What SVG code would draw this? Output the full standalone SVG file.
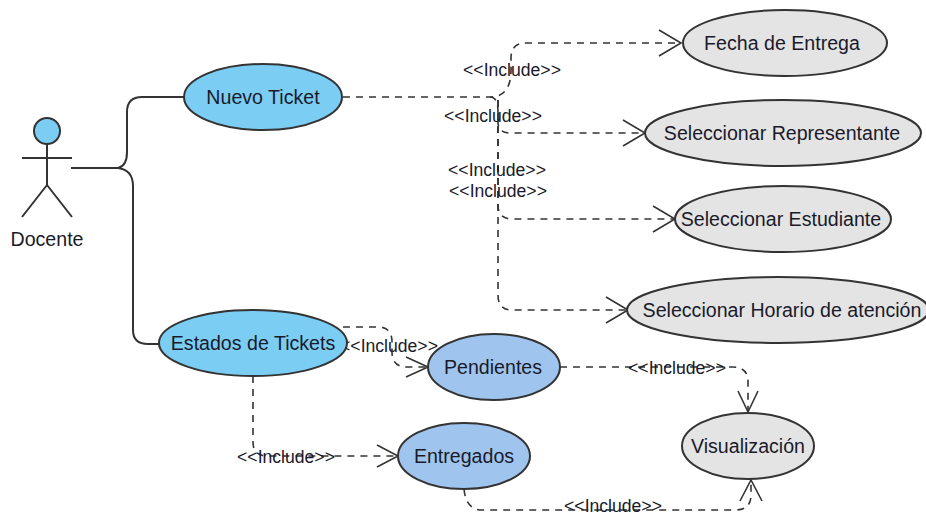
<svg xmlns="http://www.w3.org/2000/svg" width="926" height="516" viewBox="0 0 926 516">
<style>
text{font-family:"Liberation Sans",Arial,sans-serif;fill:#1a1a2a}
.n{font-size:19.6px;text-anchor:middle}
.l{font-size:17.6px;text-anchor:middle}
.e{stroke:#333;stroke-width:2}
.a{fill:#7bcdf3}.b{fill:#9fc5ef}.g{fill:#e4e4e4}
.s{fill:none;stroke:#333;stroke-width:2}
.d{fill:none;stroke:#333;stroke-width:1.6;stroke-dasharray:7 6}
.h{fill:none;stroke:#333;stroke-width:1.6}
</style>
<rect width="926" height="516" fill="#fff"/>
<g id="connectors">
<path class="s" d="M71 168H118Q127 166 127 152V112Q127 97 142 97H185"/>
<path class="s" d="M118 168Q133 170 133 186V330Q133 344 148 344H159"/>
<path class="d" d="M343 97H490Q511 97 511 70V58Q511 43 526 43H681"/>
<path class="d" d="M490 97Q498 97 498 112V122Q498 133 510 133H645"/>
<path class="d" d="M498 100V205Q498 219 512 219H675"/>
<path class="d" d="M498 100V295Q498 310 512 310H627"/>
<path class="d" d="M343 327H378Q392 327 392 342V352Q392 367 407 367H428"/>
<path class="d" d="M253 376V442Q253 456 267 456H398"/>
<path class="d" d="M560 367H733Q748 367 748 382V412"/>
<path class="d" d="M464 489Q466 510 482 510H735Q751 510 751 495V480"/>
<path class="h" d="M659 30L681 43L659 56"/>
<path class="h" d="M623 120L645 133L623 146"/>
<path class="h" d="M653 206L675 219L653 232"/>
<path class="h" d="M606 297L628 310L606 323"/>
<path class="h" d="M406 357L428 367L406 377"/>
<path class="h" d="M377 445L398 456L377 467"/>
<path class="h" d="M738 391L748 412L758 391"/>
<path class="h" d="M740 501L751 480L762 501"/>
<text class="l" x="512" y="76">&lt;&lt;Include&gt;&gt;</text>
<text class="l" x="493" y="122">&lt;&lt;Include&gt;&gt;</text>
<text class="l" x="497" y="176">&lt;&lt;Include&gt;&gt;</text>
<text class="l" x="498" y="197">&lt;&lt;Include&gt;&gt;</text>
<text class="l" x="389" y="352">&lt;&lt;Include&gt;&gt;</text>
<text class="l" x="286" y="463">&lt;&lt;Include&gt;&gt;</text>
<text class="l" x="677" y="374">&lt;&lt;Include&gt;&gt;</text>
<text class="l" x="613" y="512">&lt;&lt;Include&gt;&gt;</text>
</g>
<g id="actor-docente">
<circle class="e a" cx="47" cy="131" r="13"/>
<path class="s" d="M47 144V185M22 158H72M22 217L47 185L72 217"/>
<text class="n" x="47" y="246">Docente</text>
</g>
<g id="nuevo-ticket"><ellipse class="e a" cx="263" cy="97" rx="79" ry="33"/><text class="n" x="263" y="104">Nuevo Ticket</text></g>
<g id="estados-de-tickets"><ellipse class="e a" cx="253" cy="343" rx="94" ry="33"/><text class="n" x="253" y="350">Estados de Tickets</text></g>
<g id="pendientes"><ellipse class="e b" cx="494" cy="367" rx="66" ry="33"/><text class="n" x="493" y="374">Pendientes</text></g>
<g id="entregados"><ellipse class="e b" cx="464" cy="456" rx="66" ry="33"/><text class="n" x="464" y="463">Entregados</text></g>
<g id="visualizacion"><ellipse class="e g" cx="748" cy="446" rx="66" ry="33"/><text class="n" x="748" y="453">Visualización</text></g>
<g id="fecha-de-entrega"><ellipse class="e g" cx="785" cy="43" rx="102" ry="33"/><text class="n" x="782" y="50">Fecha de Entrega</text></g>
<g id="seleccionar-representante"><ellipse class="e g" cx="783" cy="133" rx="138" ry="33"/><text class="n" x="782" y="140">Seleccionar Representante</text></g>
<g id="seleccionar-estudiante"><ellipse class="e g" cx="783" cy="219" rx="108" ry="33"/><text class="n" x="781" y="226">Seleccionar Estudiante</text></g>
<g id="seleccionar-horario"><ellipse class="e g" cx="778" cy="310" rx="151" ry="33"/><text class="n" x="782" y="317">Seleccionar Horario de atención</text></g>
</svg>
